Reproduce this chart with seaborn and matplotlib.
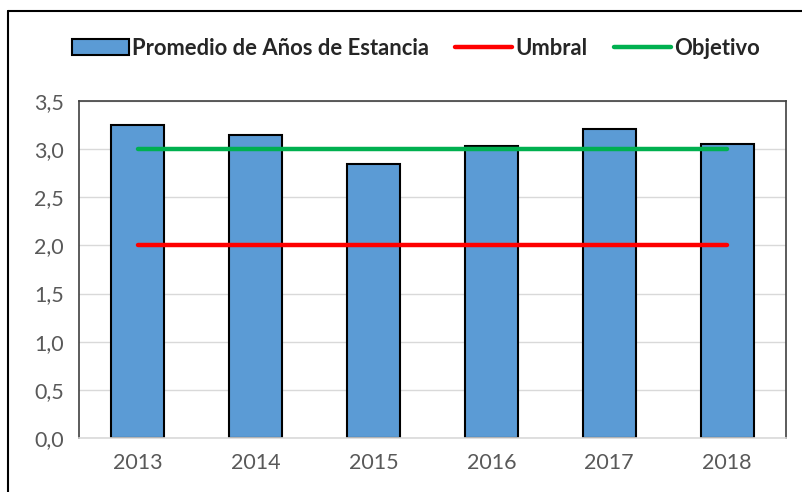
import matplotlib
matplotlib.use("Agg")
import matplotlib.pyplot as plt
import pandas as pd
import seaborn as sns
from matplotlib.lines import Line2D
from matplotlib.ticker import FuncFormatter

years = ["2013", "2014", "2015", "2016", "2017", "2018"]
promedio = [3.25, 3.15, 2.85, 3.03, 3.21, 3.05]
umbral = [2.0, 2.0, 2.0, 2.0, 2.0, 2.0]
objetivo = [3.0, 3.0, 3.0, 3.0, 3.0, 3.0]

df = pd.DataFrame({"year": years, "promedio": promedio, "umbral": umbral, "objetivo": objetivo})

sns.set_theme(style="white")
plt.rcParams["font.family"] = ["Lato", "DejaVu Sans"]

fig = plt.figure(figsize=(8.03, 4.92), dpi=100)
ax = fig.add_axes([0.0984, 0.1098, 0.8804, 0.6849])

sns.barplot(data=df, x="year", y="promedio", color="#5B9BD5", saturation=1,
            width=0.45, edgecolor="black", linewidth=1.5, ax=ax,
            label="Promedio de Años de Estancia", zorder=2)
sns.lineplot(data=df, x="year", y="umbral", color="#FF0000", linewidth=3.2,
             ax=ax, label="Umbral", zorder=3, solid_capstyle="round")
sns.lineplot(data=df, x="year", y="objetivo", color="#00B050", linewidth=3.2,
             ax=ax, label="Objetivo", zorder=3, solid_capstyle="round")

ax.set_xlim(-0.5, len(years) - 0.5)
ax.set_ylim(0, 3.5)
ax.set_yticks([0, 0.5, 1.0, 1.5, 2.0, 2.5, 3.0, 3.5])
ax.yaxis.set_major_formatter(FuncFormatter(lambda v, p: f"{v:.1f}".replace(".", ",")))
ax.grid(axis="y", color="#D9D9D9", linewidth=1, zorder=0)
ax.set_axisbelow(True)
ax.set_xlabel("")
ax.set_ylabel("")
ax.tick_params(axis="both", length=0, labelsize=15.5, labelcolor="#595959")
ax.tick_params(axis="x", pad=11)
ax.tick_params(axis="y", pad=11)

for side in ["top", "left", "right"]:
    ax.spines[side].set_visible(True)
    ax.spines[side].set_color("#404040")
    ax.spines[side].set_linewidth(1.2)
ax.spines["bottom"].set_color("#D9D9D9")
ax.spines["bottom"].set_linewidth(1.2)

handles, labels = ax.get_legend_handles_labels()
ax.get_legend().remove()
order = [labels.index("Promedio de Años de Estancia"), labels.index("Umbral"), labels.index("Objetivo")]
fig.legend([handles[i] for i in order], [labels[i] for i in order],
           loc="center", bbox_to_anchor=(0.518, 0.902), ncol=3,
           frameon=False, prop={"weight": "bold", "size": 15.8},
           handlelength=2.6, handletextpad=0.15, columnspacing=1.2,
           handleheight=0.8)

# outer frame (only left and top edges visible in the crop)
fig.add_artist(Line2D([0.01, 0.01], [0, 0.978], transform=fig.transFigure,
                      color="black", linewidth=1.5))
fig.add_artist(Line2D([0.01, 1], [0.978, 0.978], transform=fig.transFigure,
                      color="black", linewidth=1.5))

fig.savefig("out.png", dpi=100)
